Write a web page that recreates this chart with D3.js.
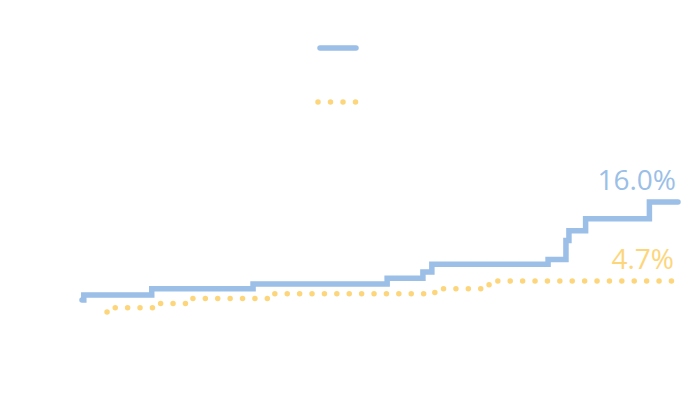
<!DOCTYPE html>
<html>
<head>
<meta charset="utf-8">
<script src="https://cdn.jsdelivr.net/npm/d3@7"></script>
<style>
  body { margin: 0; background: #fff; }
  svg { display: block; }
</style>
</head>
<body>
<div id="chart"></div>
<script>
// x position in weeks, y value in percent
var blueX = [0, 0.3, 11.7, 28.7, 51.2, 57.2, 58.7, 78.2, 81.2, 81.7, 84.5, 95.2, 100];
var blueY = [2.0, 2.7, 3.6, 4.3, 5.1, 6.0, 7.1, 7.8, 10.5, 11.9, 13.6, 16.0, 16.0];
var yellowX = [4.2, 4.7, 12.5, 18.3, 32.0, 59.2, 60.5, 68.3, 69.5, 100];
var yellowY = [0.3, 0.9, 1.5, 2.2, 2.9, 3.1, 3.6, 4.4, 4.7, 4.7];
var endLabels = ["16.0%", "4.7%"];

var width = 700, height = 394;
var blue = "#9bbfe7", yellow = "#fdd67c";

var svg = d3.select("#chart").append("svg")
  .attr("width", width)
  .attr("height", height);

var x = d3.scaleLinear().domain([0, 100]).range([82, 678]);
var y = d3.scaleLinear().domain([-10, 30]).range([384, 104]);

var line = d3.line()
  .x(function(d) { return x(d[0]); })
  .y(function(d) { return y(d[1]); })
  .curve(d3.curveStepAfter);

var blueData = d3.zip(blueX, blueY);
var yellowData = d3.zip(yellowX, yellowY);

svg.append("path")
  .datum(yellowData)
  .attr("d", line)
  .attr("fill", "none")
  .attr("stroke", yellow)
  .attr("stroke-width", 5.5)
  .attr("stroke-linecap", "round")
  .attr("stroke-dasharray", "0,12.4");

svg.append("path")
  .datum(blueData)
  .attr("d", line)
  .attr("fill", "none")
  .attr("stroke", blue)
  .attr("stroke-width", 5.5)
  .attr("stroke-linejoin", "miter")
  .attr("stroke-linecap", "round");

// end labels
svg.append("text")
  .attr("x", x(100) - 2)
  .attr("y", y(blueY[blueY.length - 1]) - 12)
  .attr("text-anchor", "end")
  .attr("font-family", "Open Sans, sans-serif")
  .attr("font-size", 28)
  .attr("fill", blue)
  .text(endLabels[0]);

svg.append("text")
  .attr("x", x(100) - 4)
  .attr("y", y(yellowY[yellowY.length - 1]) - 12)
  .attr("text-anchor", "end")
  .attr("font-family", "Open Sans, sans-serif")
  .attr("font-size", 28)
  .attr("fill", yellow)
  .text(endLabels[1]);

// legend
var legend = svg.append("g").attr("transform", "translate(320,0)");
legend.append("line")
  .attr("x1", 0).attr("x2", 36)
  .attr("y1", 48).attr("y2", 48)
  .attr("stroke", blue)
  .attr("stroke-width", 5.5)
  .attr("stroke-linecap", "round");
legend.append("line")
  .attr("x1", -2).attr("x2", 36)
  .attr("y1", 102).attr("y2", 102)
  .attr("stroke", yellow)
  .attr("stroke-width", 5.5)
  .attr("stroke-linecap", "round")
  .attr("stroke-dasharray", "0,12.5");
</script>
</body>
</html>
